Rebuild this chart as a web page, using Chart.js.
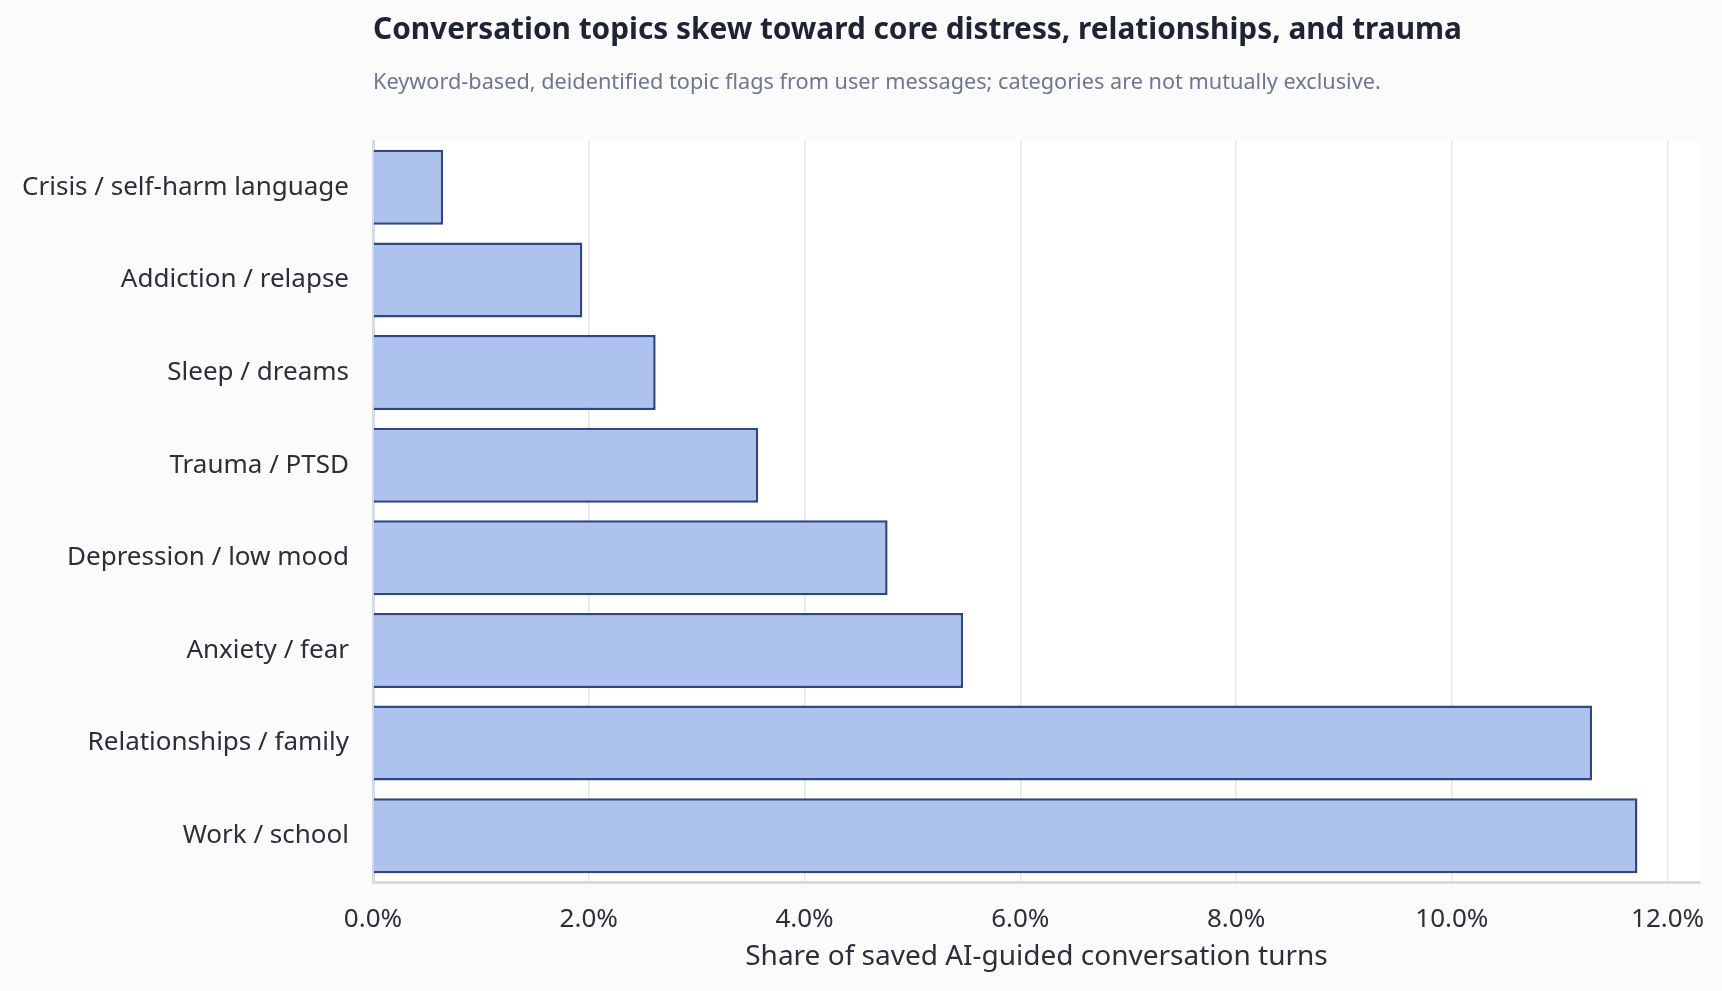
<!DOCTYPE html>
<html>
<head>
<meta charset="utf-8">
<script src="https://cdn.jsdelivr.net/npm/chart.js@4.4.1/dist/chart.umd.min.js"></script>
<style>
  html, body { margin: 0; padding: 0; background: #fbfbfc; }
  #wrap { width: 1722px; height: 991px; position: relative; }
</style>
</head>
<body>
<div id="wrap"><canvas id="topicChart"></canvas></div>
<script>
// topic categories, top to bottom
const topics = [
  'Crisis / self-harm language',
  'Addiction / relapse',
  'Sleep / dreams',
  'Trauma / PTSD',
  'Depression / low mood',
  'Anxiety / fear',
  'Relationships / family',
  'Work / school'
];
// share of saved turns, in percent
const shares = [0.65, 1.94, 2.62, 3.57, 4.77, 5.47, 11.30, 11.72];
// x axis range and tick step (percent)
const xMax = 12.3;
const xStep = 2;

const chartTitle = 'Conversation topics skew toward core distress, relationships, and trauma';
const chartSubtitle = 'Keyword-based, deidentified topic flags from user messages; categories are not mutually exclusive.';
const xTitle = 'Share of saved AI-guided conversation turns';

const fontFamily = '"Noto Sans", "Open Sans", sans-serif';

// page background, white plot area, and the left-aligned heading
const backdrop = {
  id: 'backdrop',
  beforeDraw(chart) {
    const { ctx, chartArea } = chart;
    ctx.save();
    ctx.fillStyle = '#fbfbfc';
    ctx.fillRect(0, 0, chart.width, chart.height);
    ctx.fillStyle = '#ffffff';
    ctx.fillRect(chartArea.left, chartArea.top, chartArea.right - chartArea.left, chartArea.bottom - chartArea.top);
    ctx.restore();
  },
  afterDraw(chart) {
    const { ctx, chartArea } = chart;
    ctx.save();
    ctx.textAlign = 'left';
    ctx.textBaseline = 'middle';
    ctx.fillStyle = '#1f2433';
    ctx.font = '700 29.8px ' + fontFamily;
    ctx.fillText(chartTitle, chartArea.left, 31);
    ctx.fillStyle = '#6e7690';
    ctx.font = '21.7px ' + fontFamily;
    ctx.fillText(chartSubtitle, chartArea.left, 83);
    ctx.restore();
  }
};

const ctx = document.getElementById('topicChart').getContext('2d');
const myChart = new Chart(ctx, {
  type: 'bar',
  data: {
    labels: topics,
    datasets: [{
      label: 'Share of turns',
      data: shares,
      backgroundColor: '#aec2ee',
      borderColor: '#2e4684',
      borderWidth: 2.5,
      categoryPercentage: 0.9,
      barPercentage: 0.9
    }]
  },
  options: {
    indexAxis: 'y',
    responsive: true,
    maintainAspectRatio: false,
    animation: false,
    devicePixelRatio: 1,
    layout: {
      padding: { top: 141, left: 18, right: 22, bottom: 13 }
    },
    plugins: {
      legend: { display: false },
      title: { display: false },
      tooltip: { enabled: false }
    },
    scales: {
      x: {
        min: 0,
        max: xMax,
        grid: {
          color: '#e4e6ee',
          lineWidth: 1.5,
          drawTicks: false
        },
        border: { color: '#d5d9e8', width: 3 },
        ticks: {
          stepSize: xStep,
          includeBounds: false,
          padding: 22,
          color: '#2b2f38',
          font: { family: fontFamily, size: 26 },
          callback: v => v.toFixed(1) + '%'
        },
        title: {
          display: true,
          text: xTitle,
          color: '#2b2f38',
          font: { family: fontFamily, size: 28 },
          padding: { top: 0, bottom: 4 }
        },
        afterFit(scale) {
          scale.height = 96;
          scale.paddingLeft = 0;
          scale.paddingRight = 0;
        }
      },
      y: {
        grid: { display: false, drawTicks: false },
        border: { color: '#d5d9e8', width: 3 },
        ticks: {
          padding: 24,
          color: '#2b2f38',
          font: { family: fontFamily, size: 26 }
        },
        afterFit(scale) {
          scale.width = 355;
        }
      }
    }
  },
  plugins: [backdrop]
});
</script>
</body>
</html>
